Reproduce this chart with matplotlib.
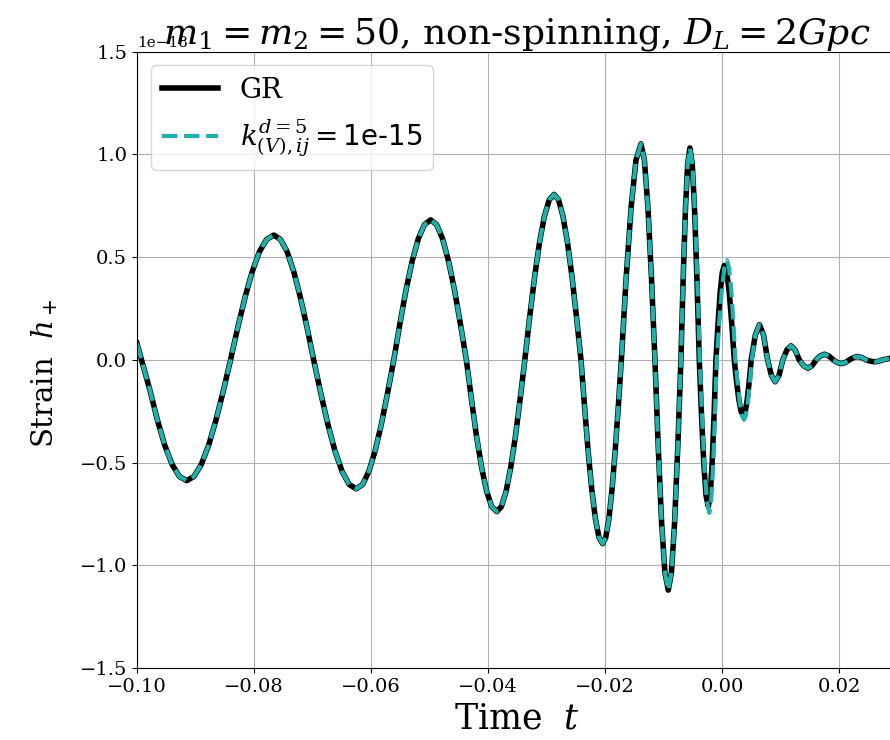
"""GR vs Lorentz-violating waveform, h_+ strain around merger."""

import matplotlib
matplotlib.use("Agg")
import matplotlib.pyplot as plt
import numpy as np

plt.rcParams["font.family"] = "DejaVu Serif"
plt.rcParams["mathtext.fontset"] = "dejavuserif"

SCALE = 1e-18  # strain unit

# inspiral part, identical for both curves (time in s, strain in 1e-18)
t_inspiral = [
    -0.1000, -0.09775, -0.0965, -0.09525, -0.0940, -0.09275, -0.0915,
    -0.09025, -0.0890, -0.08775, -0.0865, -0.08525, -0.0840,
    -0.08277, -0.08153, -0.0803, -0.07907, -0.07783, -0.0766,
    -0.07547, -0.07433, -0.0732, -0.07207, -0.07093, -0.0698,
    -0.06858, -0.06737, -0.06615, -0.06493, -0.06372, -0.0625,
    -0.06143, -0.06037, -0.0593, -0.05823, -0.05717, -0.0561,
    -0.05505, -0.0540, -0.05295, -0.0519, -0.05085, -0.0498,
    -0.04878, -0.04777, -0.04675, -0.04573, -0.04472, -0.0437,
    -0.04283, -0.04197, -0.0411, -0.04023, -0.03937, -0.0385,
    -0.0377, -0.0369, -0.0361, -0.0353, -0.0345, -0.0337,
    -0.03287, -0.03203, -0.0312, -0.03037, -0.02953, -0.0287,
    -0.02793, -0.02717, -0.0264, -0.02563, -0.02487, -0.0241,
    -0.02348, -0.02287, -0.02225, -0.02163, -0.02102, -0.0204,
    -0.01987, -0.01933, -0.0188, -0.01827, -0.01773, -0.0172,
    -0.01637, -0.01553, -0.0147, -0.01386,
    -0.01326, -0.01266, -0.01206, -0.01146,
    -0.01089, -0.01032, -0.00975, -0.00918,
    -0.00864, -0.0081, -0.00756, -0.00702,
    -0.006635, -0.00625, -0.005865, -0.00548,
]
h_inspiral = [
    0.08, -0.152, -0.294, -0.416, -0.509, -0.568, -0.588,
    -0.568, -0.509, -0.416, -0.294, -0.152, 0.0,
    0.157, 0.304, 0.429, 0.526, 0.586, 0.607,
    0.586, 0.526, 0.429, 0.304, 0.157, 0.0,
    -0.163, -0.314, -0.444, -0.544, -0.607, -0.628,
    -0.607, -0.544, -0.444, -0.314, -0.163, 0.0,
    0.176, 0.341, 0.481, 0.590, 0.658, 0.681,
    0.658, 0.590, 0.481, 0.341, 0.176, 0.0,
    -0.191, -0.370, -0.522, -0.640, -0.714, -0.739,
    -0.714, -0.640, -0.522, -0.370, -0.191, 0.0,
    0.208, 0.403, 0.569, 0.697, 0.778, 0.805,
    0.778, 0.697, 0.569, 0.403, 0.208, 0.0,
    -0.232, -0.448, -0.633, -0.775, -0.865, -0.895,
    -0.865, -0.775, -0.633, -0.448, -0.232, 0.0,
    0.403, 0.743, 0.971, 1.051,
    0.971, 0.743, 0.403, 0.0,
    -0.429, -0.793, -1.036, -1.121,
    -1.036, -0.793, -0.429, 0.0,
    0.395, 0.729, 0.953, 1.031,
]

# merger: GR
t_merger_gr = [
    -0.00508, -0.00468, -0.00428, -0.00388,
    -0.003495, -0.00311, -0.002725, -0.00234,
    -0.002013, -0.001685, -0.001358, -0.00103,
    -0.000673, -0.000315, 0.000043, 0.0004,
    0.000825, 0.00125, 0.001675, 0.0021,
    0.002488, 0.002875, 0.003263, 0.00365,
    0.003988, 0.004325, 0.004663, 0.0050,
]
h_merger_gr = [
    0.953, 0.729, 0.395, 0.0,
    -0.273, -0.505, -0.660, -0.714,
    -0.660, -0.505, -0.273, 0.0,
    0.176, 0.325, 0.424, 0.459,
    0.424, 0.325, 0.176, 0.0,
    -0.104, -0.192, -0.251, -0.272,
    -0.251, -0.192, -0.104, 0.0,
]

# merger: Lorentz-violating (slightly deeper / later)
t_merger_lv = [
    -0.00506, -0.00464, -0.00422, -0.00380,
    -0.003393, -0.002985, -0.002578, -0.00217,
    -0.001853, -0.001535, -0.001218, -0.00090,
    -0.00046, -0.00002, 0.00042, 0.00086,
    0.00122, 0.00158, 0.00194, 0.0023,
    0.002665, 0.00303, 0.003395, 0.00376,
    0.004095, 0.00443, 0.004765, 0.0051,
]
h_merger_lv = [
    0.953, 0.729, 0.395, 0.0,
    -0.285, -0.527, -0.688, -0.745,
    -0.688, -0.527, -0.285, 0.0,
    0.185, 0.342, 0.447, 0.484,
    0.447, 0.342, 0.185, 0.0,
    -0.112, -0.206, -0.270, -0.292,
    -0.270, -0.206, -0.112, 0.0,
]

# ringdown, shared
t_ringdown = [
    0.0057, 0.0064, 0.0071, 0.0078,
    0.00845, 0.0091, 0.00975, 0.0104,
    0.0111, 0.0118, 0.0125, 0.0132,
    0.01395, 0.0147, 0.0154, 0.0161,
    0.0168, 0.0175, 0.01825, 0.0190,
    0.0197, 0.0204, 0.0211, 0.0218,
    0.0225, 0.0232, 0.0239, 0.0246,
    0.0254, 0.0261, 0.0268, 0.0275,
    0.0289, 0.0300,
]
h_ringdown = [
    0.121, 0.171, 0.121, 0.0,
    -0.076, -0.107, -0.076, 0.0,
    0.048, 0.068, 0.048, 0.0,
    -0.029, -0.041, -0.029, 0.0,
    0.019, 0.027, 0.019, 0.0,
    -0.013, -0.019, -0.013, 0.0,
    0.011, 0.016, 0.011, 0.0,
    -0.007, -0.010, -0.007, 0.0,
    0.008, 0.010,
]

t_gr = np.array(t_inspiral + t_merger_gr + t_ringdown)
h_gr = np.array(h_inspiral + h_merger_gr + h_ringdown) * SCALE
t_lv = np.array(t_inspiral + t_merger_lv + t_ringdown)
h_lv = np.array(h_inspiral + h_merger_lv + h_ringdown) * SCALE

fig = plt.figure(figsize=(8.9, 7.4), dpi=100)
ax = fig.add_axes([0.1539, 0.0973, 0.8545, 0.8330])

ax.plot(t_gr, h_gr, color="black", linewidth=4, label="GR")
ax.plot(t_lv, h_lv, color="lightseagreen", linestyle="--", linewidth=3,
        label=r"$k^{d=5}_{(V),ij} = $1e-15")

ax.set_xlim(-0.1, 0.03)
ax.set_ylim(-1.5e-18, 1.5e-18)
ax.set_xticks([-0.10, -0.08, -0.06, -0.04, -0.02, 0.00, 0.02])
ax.set_yticks(np.arange(-1.5, 1.51, 0.5) * SCALE)
ax.tick_params(labelsize=14)
ax.yaxis.get_offset_text().set_fontsize(11)
ax.grid(True)

ax.set_xlabel(r"Time  $t$", fontsize=25)
ax.set_ylabel(r"Strain  $h_+$", fontsize=21)
ax.yaxis.set_label_coords(-0.101, 0.477)
# fixed y so the title sits right on the axes (overlapping the offset text)
ax.set_title(r"$m_1 = m_2 = 50$, non-spinning, $D_L = 2Gpc$", fontsize=26,
             y=1.0, pad=6)

leg = ax.legend(loc="upper left", fontsize=20)
leg.get_texts()[1].set_fontfamily("DejaVu Sans")

fig.savefig("out.png", dpi=100)
